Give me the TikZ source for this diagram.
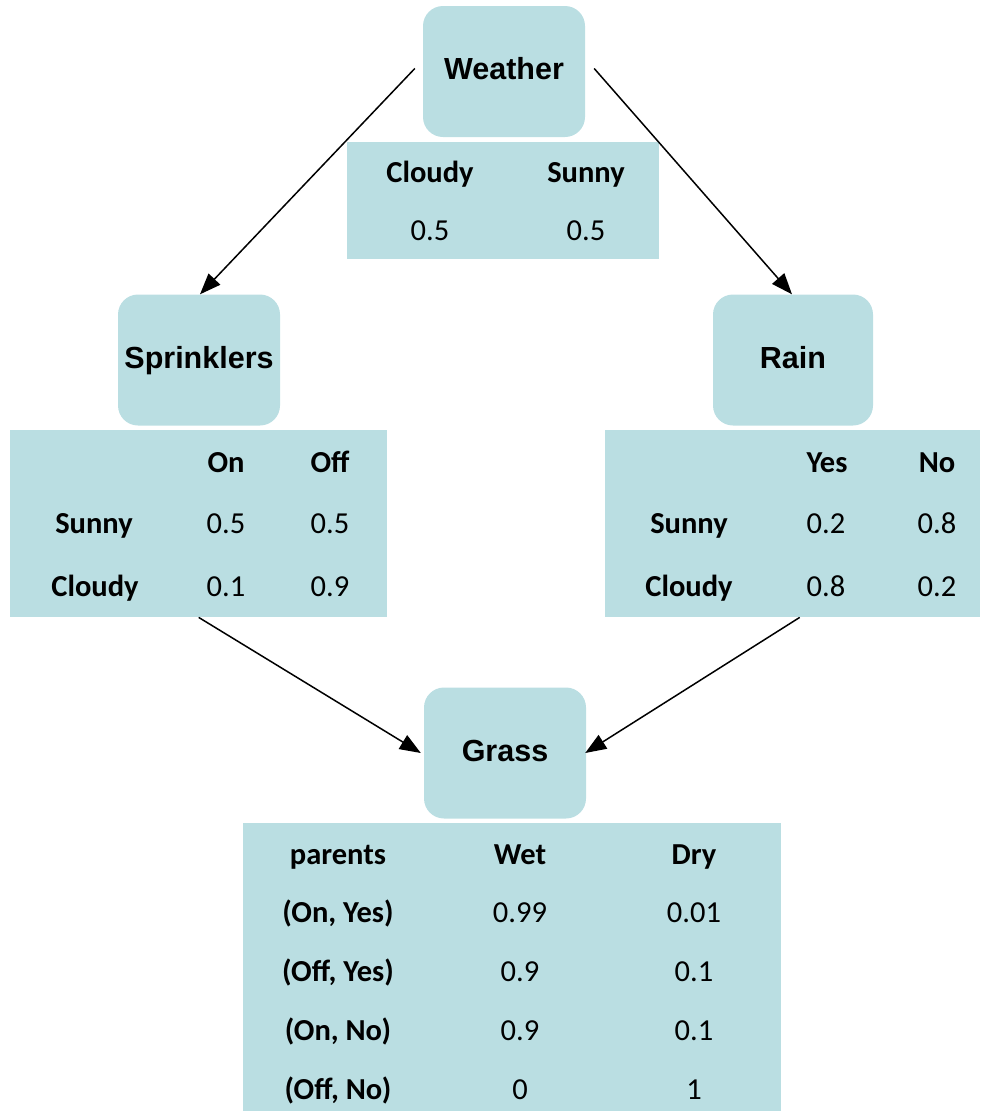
\documentclass[tikz,border=0pt]{standalone}
\usepackage{fontspec}
\setmainfont{Carlito}
\newfontfamily\arialf{Liberation Sans}
\usetikzlibrary{arrows.meta}
\definecolor{cellfill}{RGB}{186,222,226}
\begin{document}
\begin{tikzpicture}[x=1pt,y=-1pt,
  varnode/.style={draw=none, fill=cellfill, rounded corners=20pt, minimum width=162pt, minimum height=131pt, inner sep=0pt, font=\arialf\bfseries\fontsize{30.5}{36}\selectfont, text height=16pt, text depth=0pt},
  cpt/.style={draw=none, fill=cellfill, inner sep=0pt, anchor=north west},
  hd/.style={anchor=base, font=\bfseries\fontsize{30.5}{36}\selectfont, inner sep=0pt},
  val/.style={anchor=base, font=\fontsize{30.5}{36}\selectfont, inner sep=0pt},
  arr/.style={-{Triangle[length=21pt,width=16pt]}, line width=1.5pt}]
\useasboundingbox (0,0) rectangle (980,1111);

% variable nodes
\node[varnode] (weather) at (504,71.5) {Weather};
\node[varnode] (sprink) at (199,360) {Sprinklers};
\node[varnode, minimum width=160pt] (rain) at (793,360) {Rain};
\node[varnode] (grass) at (505,753) {Grass};

% tables
\node[cpt, minimum width=312pt, minimum height=117pt] (wtab) at (347,142) {};
\node[cpt, minimum width=377pt, minimum height=187pt] (stab) at (10,430) {};
\node[cpt, minimum width=375pt, minimum height=187pt] (rtab) at (605,430) {};
\node[cpt, minimum width=538pt, minimum height=288pt] (gtab) at (243,823) {};

% weather table
\node[hd] (w1) at (430,182) {Cloudy};
\node[hd] (w2) at (586,182) {Sunny};
\node[val] (w3) at (430,240) {0.5};
\node[val] (w4) at (586,240) {0.5};

% sprinklers table
\node[hd] (s1) at (226,472) {On};
\node[hd] (s2) at (330,472) {Off};
\node[hd] (s3) at (94,533) {Sunny};
\node[val] (s4) at (226,533) {0.5};
\node[val] (s5) at (330,533) {0.5};
\node[hd] (s6) at (95,596) {Cloudy};
\node[val] (s7) at (226,596) {0.1};
\node[val] (s8) at (330,596) {0.9};

% rain table
\node[hd] (r1) at (827,472) {Yes};
\node[hd] (r2) at (937,472) {No};
\node[hd] (r3) at (689,533) {Sunny};
\node[val] (r4) at (826,533) {0.2};
\node[val] (r5) at (937,533) {0.8};
\node[hd] (r6) at (689,596) {Cloudy};
\node[val] (r7) at (826,596) {0.8};
\node[val] (r8) at (937,596) {0.2};

% grass table
\node[hd] (g1) at (338,864) {parents};
\node[hd] (g2) at (520,864) {Wet};
\node[hd] (g3) at (694,864) {Dry};
\node[hd] (g4) at (338,922) {(On, Yes)};
\node[val] (g5) at (520,922) {0.99};
\node[val] (g6) at (694,922) {0.01};
\node[hd] (g7) at (338,981) {(Off, Yes)};
\node[val] (g8) at (520,981) {0.9};
\node[val] (g9) at (694,981) {0.1};
\node[hd] (g10) at (338,1040) {(On, No)};
\node[val] (g11) at (520,1040) {0.9};
\node[val] (g12) at (694,1040) {0.1};
\node[hd] (g13) at (338,1099) {(Off, No)};
\node[val] (g14) at (520,1099) {0};
\node[val] (g15) at (694,1099) {1};

% connectors
\draw[arr] ([shift={(-8,-3)}]weather.west) -- ([xshift=1pt]sprink.north);
\draw[arr] ([shift={(9,-3)}]weather.east) -- ([xshift=-1pt]rain.north);
\draw[arr] (stab.south) -- ([xshift=-3pt]grass.west);
\draw[arr] ([xshift=7pt]rtab.south) -- ([xshift=-1pt]grass.east);
\end{tikzpicture}
\end{document}
